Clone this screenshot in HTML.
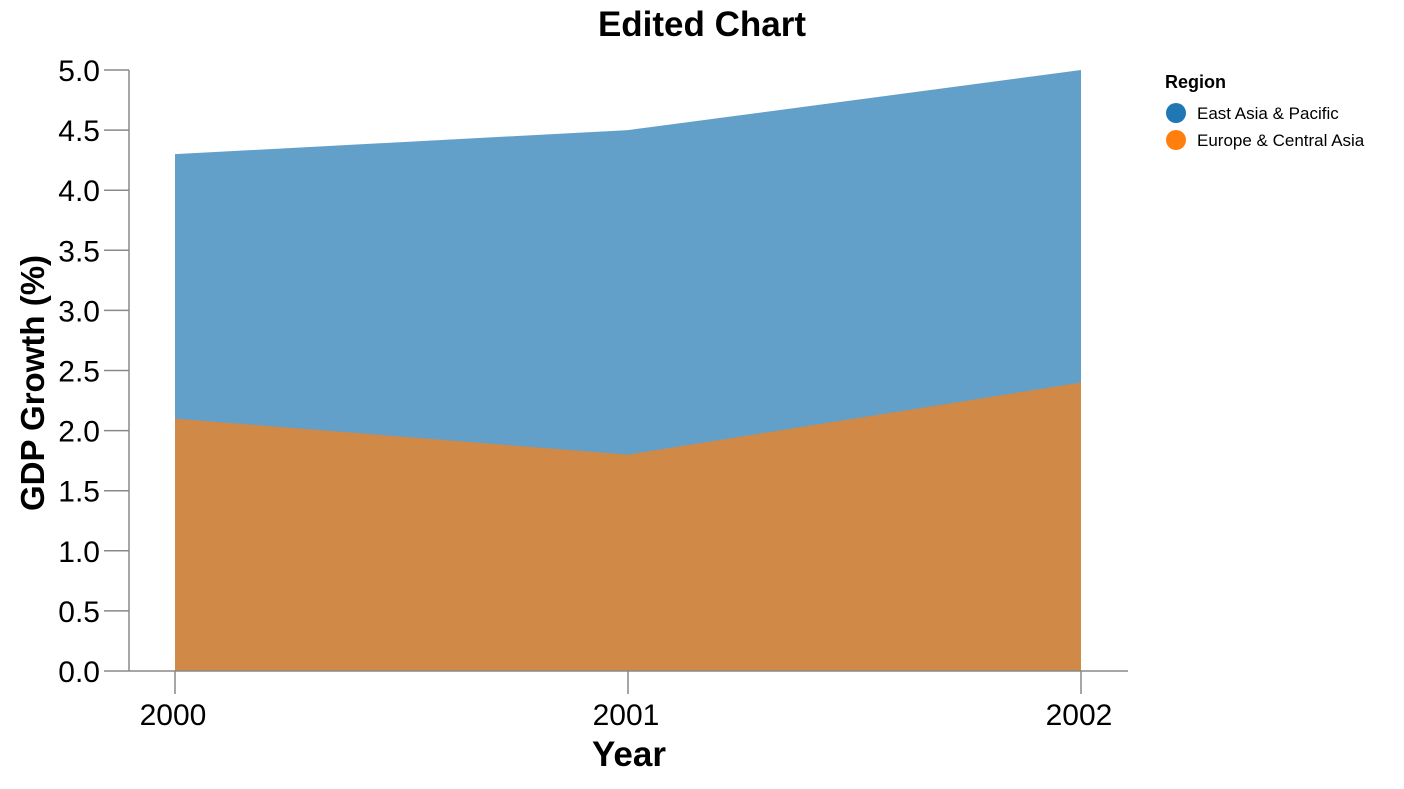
<!DOCTYPE html>
<html><head><meta charset="utf-8"><style>
body{margin:0;background:#fff;font-family:"Liberation Sans",Arial,sans-serif}
</style></head><body>
<svg id="chart" width="1404" height="784" xmlns="http://www.w3.org/2000/svg">
<text x="702" y="36" text-anchor="middle" font-size="35" font-weight="bold" fill="#000">Edited Chart</text>
<g id="plot"></g>
<g id="axes"></g>
<text x="629" y="766" text-anchor="middle" font-size="35" font-weight="bold">Year</text>
<text transform="translate(44,383) rotate(-90)" text-anchor="middle" font-size="33" font-weight="bold">GDP Growth (%)</text>
<g>
<text x="1165" y="88" font-size="18" font-weight="bold">Region</text>
<g><circle cx="1176" cy="113" r="10" fill="#1f77b4"/><text x="1197" y="119" font-size="17">East Asia &amp; Pacific</text></g>
<g><circle cx="1176" cy="140" r="10" fill="#ff7f0e"/><text x="1197" y="146" font-size="17">Europe &amp; Central Asia</text></g>
</g>
</svg>
<script>
const years=["2000","2001","2002"];
const eastAsia=[4.3,4.5,5.0];
const europe=[2.1,1.8,2.4];
const yTicks=[0,0.5,1,1.5,2,2.5,3,3.5,4,4.5,5];
const NS="http://www.w3.org/2000/svg";
const x=i=>175+i*453, y=v=>671-v*120.2;
const plot=document.getElementById('plot'), axes=document.getElementById('axes');
function area(vals,color,name){
  const p=document.createElementNS(NS,'path');
  let d=`M${x(0)},${y(0)}`;
  vals.forEach((v,i)=>d+=`L${x(i)},${y(v)}`);
  d+=`L${x(vals.length-1)},${y(0)}Z`;
  p.setAttribute('d',d);p.setAttribute('fill',color);p.setAttribute('fill-opacity','0.7');
  
  
  plot.appendChild(p);
}
area(eastAsia,'#1f77b4','area-east-asia');
area(europe,'#ff7f0e','area-europe');
function line(x1,y1,x2,y2,name){
  const l=document.createElementNS(NS,'line');
  l.setAttribute('x1',x1);l.setAttribute('y1',y1);l.setAttribute('x2',x2);l.setAttribute('y2',y2);
  l.setAttribute('stroke','#888');l.setAttribute('stroke-width','1.5');
  
  
  axes.appendChild(l);
}
function text(tx,ty,s,anchor,name){
  const t=document.createElementNS(NS,'text');
  t.setAttribute('x',tx);t.setAttribute('y',ty);t.setAttribute('font-size','30');t.setAttribute('text-anchor',anchor);
  t.textContent=s;
  
  
  axes.appendChild(t);
}
line(129,70,129,671,'y-axis-line');
line(129,671,1128,671,'x-axis-line');
yTicks.forEach(v=>{line(104,y(v),129,y(v),'y-tick');text(100,y(v)+11,v.toFixed(1),'end','y-tick-label');});
years.forEach((yr,i)=>{line(x(i),671,x(i),694,'x-tick');text(x(i)-2,725,yr,'middle','x-tick-label');});
</script>
</body></html>
